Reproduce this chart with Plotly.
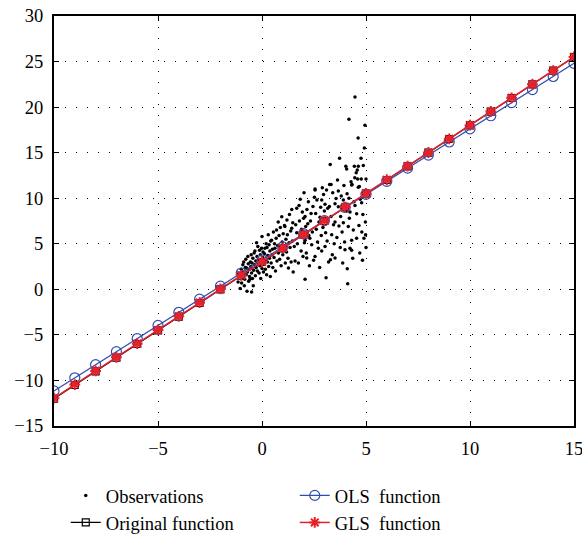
import plotly.graph_objects as go

# Observations
obs_x = [-1.15,-1.1,-1.05,-1.0,-0.98,-0.95,-0.92,-0.9,-0.88,-0.85,-0.83,-0.8,-0.78,-0.76,-0.74,-0.72,-0.7,-0.68,-0.66,-0.64,-0.62,-0.6,-0.58,-0.56,-0.54,-0.52,-0.5,-0.5,-0.48,-0.46,
         -0.44,-0.42,-0.4,-0.38,-0.36,-0.34,-0.32,-0.3,-0.28,-0.26,-0.24,-0.22,-0.2,-0.18,-0.16,-0.14,-0.12,-0.1,-0.08,-0.06,-0.04,-0.02,0.0,0.0,0.03,0.05,0.07,0.1,0.12,0.14,0.16,0.18,0.2,0.22,0.24,0.26,0.28,0.3,0.32,0.34,0.36,0.38,0.4,0.42,0.44,0.46,0.48,
         0.5,0.52,0.55,0.58,0.6,0.62,0.65,0.68,0.7,0.72,0.75,0.78,0.79,0.82,0.85,0.88,0.9,0.92,0.95,0.97,1.0,1.02,1.05,1.08,1.1,1.12,1.15,1.18,1.2,1.22,1.25,1.27,1.3,1.32,1.35,1.38,1.4,1.43,1.43,1.46,1.48,1.5,
         1.55,1.59,1.62,1.67,1.67,1.7,1.75,1.78,1.8,1.83,1.84,1.88,1.9,1.94,1.97,2.0,2.02,2.04,2.07,2.07,2.07,2.1,2.13,2.15,2.16,2.2,2.23,2.25,2.28,2.3,2.33,2.36,2.39,2.42,2.45,2.48,
         2.52,2.55,2.55,2.55,2.58,2.61,2.64,2.67,2.71,2.74,2.77,2.79,2.82,2.85,2.87,2.87,2.9,2.93,2.96,3.0,3.03,3.03,3.03,3.06,3.08,3.1,3.13,3.16,3.2,3.24,3.25,3.28,3.29,3.32,3.32,3.35,3.38,3.4,3.44,3.47,
         3.51,3.51,3.51,3.56,3.6,3.63,3.67,3.67,3.7,3.73,3.76,3.78,3.81,3.85,3.88,3.91,3.91,3.94,3.97,3.99,4.03,4.05,4.07,4.09,4.1,4.12,4.15,4.18,4.18,4.2,4.23,4.23,4.28,4.31,4.31,4.31,4.33,4.36,4.39,4.42,4.44,4.46,4.47,4.47,
         4.53,4.55,4.55,4.58,4.6,4.62,4.63,4.63,4.66,4.68,4.7,4.72,4.76,4.77,4.79,4.8,4.83,4.85,4.87,4.9,4.92,4.93,4.95,4.97,5.0,5.0,4.98]
obs_y = [0.8,1.6,0.1,2.2,0.7,1.3,2.7,1.9,3.0,0.4,1.1,2.4,3.3,1.6,2.35,-0.2,1.9,3.6,2.8,0.9,2.2,1.4,1.1,3.0,2.5,3.8,1.8,-0.3,2.9,1.2,
         3.4,0.4,2.1,4.0,2.7,4.2,1.5,3.1,2.4,5.1,3.6,2.0,4.7,2.9,3.3,1.8,4.3,2.6,3.8,1.2,3.0,4.5,5.8,2.3,3.5,4.1,1.9,2.8,3.9,4.5,2.2,3.3,5.0,1.6,4.6,3.0,3.7,6.0,2.5,4.9,3.4,4.2,1.4,5.3,2.9,5.4,3.8,
         4.4,2.4,6.3,3.5,5.0,4.5,2.0,5.6,6.5,3.1,4.8,7.4,4.0,5.9,3.3,6.8,4.5,2.6,7.97,5.2,3.8,6.1,4.4,7.0,6.9,2.9,5.5,4.1,7.6,6.0,3.4,2.35,5.1,8.2,4.6,6.4,3.0,6.7,8.77,5.3,7.3,1.9,
         4.7,3.1,7.1,8.9,6.2,5.0,2.9,9.2,7.5,5.8,9.9,4.2,6.6,8.5,3.6,7.8,10.6,5.1,8.0,5.4,1.1,6.9,4.0,3.45,8.77,7.2,9.6,5.9,2.6,5.6,7.5,8.33,4.9,6.3,9.1,3.2,
         10.1,10.9,3.6,11.0,8.33,6.6,9.8,5.2,4.5,7.4,2.4,7.9,9.0,5.9,9.8,4.2,11.15,6.8,10.4,8.6,9.35,7.8,4.7,6.2,1.27,10.9,5.3,8.9,3.0,9.1,11.5,13.7,3.26,11.5,8.0,6.0,3.8,10.6,7.1,5.0,
         9.4,7.4,3.44,9.96,5.7,12.0,10.8,9.06,6.96,14.4,4.6,8.0,10.25,6.3,2.9,9.8,7.3,11.4,5.2,4.35,13.5,8.6,13.2,10.5,2.25,0.6,6.9,10.0,18.66,7.8,8.5,4.5,11.8,11.45,5.4,4.3,11.5,3.4,6.5,9.6,13.5,12.25,9.2,21.1,
         12.8,8.3,5.6,13.1,12.1,16.6,13.5,11.2,7.0,11.3,4.0,9.9,14.4,12.1,9.5,6.3,3.2,8.2,13.6,5.6,15.5,10.8,18.0,7.4,12.1,4.6,6.0]

# Function lines evaluated at integer x
fx = [-10,-9,-8,-7,-6,-5,-4,-3,-2,-1,0,1,2,3,4,5,6,7,8,9,10,11,12,13,14,15]
orig_y = [-12,-10.5,-9,-7.5,-6,-4.5,-3,-1.5,0,1.5,3,4.5,6,7.5,9,10.5,12,13.5,15,16.5,18,19.5,21,22.5,24,25.5]
ols_y = [-11.15,-9.71,-8.27,-6.84,-5.40,-3.96,-2.52,-1.08,0.35,1.79,3.23,4.67,6.11,7.55,8.98,10.42,11.86,13.30,14.74,16.17,17.61,19.05,20.49,21.93,23.36,24.80]
gls_y = [-11.95,-10.45,-8.95,-7.46,-5.96,-4.46,-2.96,-1.46,0.04,1.54,3.03,4.53,6.03,7.53,9.03,10.53,12.03,13.52,15.02,16.52,18.02,19.52,21.02,22.51,24.01,25.51]

x_ticks = [-10, -5, 0, 5, 10, 15]
y_ticks = [-15, -10, -5, 0, 5, 10, 15, 20, 25, 30]

BLUE = "#2f4fb0"
RED = "#e8202a"
FONT = "Liberation Serif"

fig = go.Figure()
fig.add_trace(go.Scatter(x=obs_x, y=obs_y, mode="markers", name="Observations",
                         marker=dict(color="black", size=3.5), legendrank=1))
fig.add_trace(go.Scatter(x=fx, y=orig_y, mode="lines+markers", name="Original function",
                         line=dict(color="black", width=1.2),
                         marker=dict(symbol="square-open", size=7, color="black", line=dict(width=1.2)),
                         legendrank=3))
fig.add_trace(go.Scatter(x=fx, y=ols_y, mode="lines+markers", name="OLS  function",
                         line=dict(color=BLUE, width=1.2),
                         marker=dict(symbol="circle-open", size=10, color=BLUE, line=dict(width=1.2)),
                         legendrank=2))
fig.add_trace(go.Scatter(x=fx, y=gls_y, mode="lines+markers", name="GLS  function",
                         line=dict(color=RED, width=1.5),
                         marker=dict(symbol="asterisk-open", size=9, color=RED, line=dict(width=2, color=RED)),
                         legendrank=4))

axis_common = dict(showline=True, linecolor="black", linewidth=2, mirror="ticks",
                   ticks="inside", ticklen=5, tickcolor="black", tickwidth=1,
                   showgrid=True, gridcolor="black", gridwidth=1, griddash="1px,10px",
                   zeroline=False, automargin=False, ticklabeloverflow="allow",
                   tickfont=dict(family=FONT, size=18.5, color="black"))

fig.update_xaxes(range=[-10, 15], tickvals=x_ticks, ticklabelstandoff=5, **axis_common)
fig.update_yaxes(range=[-15, 30], tickvals=y_ticks, ticklabelstandoff=5, **axis_common)

fig.update_layout(
    width=582, height=537,
    margin=dict(l=54, r=8, t=16, b=111, autoexpand=False),
    plot_bgcolor="white", paper_bgcolor="white",
    font=dict(family=FONT, size=18.5, color="black"),
    legend=dict(orientation="h", xref="container", yref="container",
                x=0.113, y=0.112, xanchor="left", yanchor="top",
                entrywidth=184, entrywidthmode="pixels", tracegroupgap=0,
                font=dict(family=FONT, size=18.5), bgcolor="rgba(0,0,0,0)"),
)

fig.write_html("out.html", config={"displayModeBar": False},
               post_script="document.body.style.margin='0';")
